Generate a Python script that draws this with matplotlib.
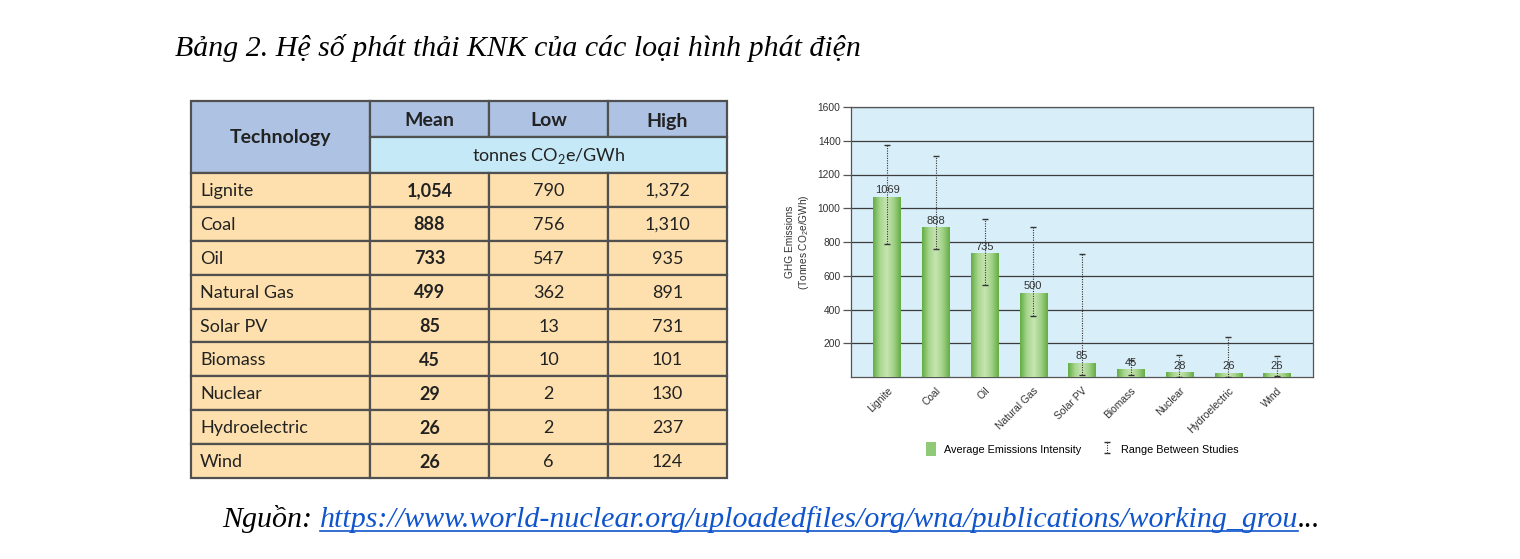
import numpy as np
import matplotlib.pyplot as plt
from matplotlib.patches import Rectangle, Patch
from matplotlib.colors import LinearSegmentedColormap

W, H = 1520, 559

# table data (tonnes CO2e/GWh)
technologies = ['Lignite', 'Coal', 'Oil', 'Natural Gas', 'Solar PV',
                'Biomass', 'Nuclear', 'Hydroelectric', 'Wind']
table_mean = [1054, 888, 733, 499, 85, 45, 29, 26, 26]
table_low = [790, 756, 547, 362, 13, 10, 2, 2, 6]
table_high = [1372, 1310, 935, 891, 731, 101, 130, 237, 124]

# chart data
chart_mean = [1069, 888, 735, 500, 85, 45, 28, 26, 26]
y_ticks = [200, 400, 600, 800, 1000, 1200, 1400, 1600]

title = 'Bảng 2. Hệ số phát thải KNK của các loại hình phát điện'
source_label = 'Nguồn: '
source_url = 'https://www.world-nuclear.org/uploadedfiles/org/wna/publications/working_grou'

fig = plt.figure(figsize=(W / 100, H / 100), dpi=100)
fig.patch.set_facecolor('white')

serif = 'Liberation Serif'
sans = 'Liberation Sans'
tfont = 'Lato'

# ---- title
fig.text(175 / W, 1 - 56 / H, title, family=serif, style='italic',
         fontsize=21.5, va='baseline', ha='left', color='black')

# ---- table
tax = fig.add_axes([191 / W, 1 - 478 / H, 536 / W, 377 / H])
tax.set_xlim(0, 536)
tax.set_ylim(377, 0)
tax.axis('off')

col_edges = [0, 179, 298, 417, 536]
h1, h2 = 36, 36
row_h = (377 - h1 - h2) / len(technologies)
c_head = '#aec3e4'
c_unit = '#c6e9f8'
c_row = '#fde0ad'
c_edge = '#505050'
lw = 1.6


def cell(x0, x1, y0, y1, fc):
    tax.add_patch(Rectangle((x0, y0), x1 - x0, y1 - y0, facecolor=fc,
                            edgecolor=c_edge, lw=lw, clip_on=False))


cell(col_edges[0], col_edges[1], 0, h1 + h2, c_head)
tax.text(col_edges[1] / 2, (h1 + h2) / 2 + 1, 'Technology', ha='center', va='center',
         family=tfont, fontweight='bold', fontsize=14, color='#222222')
for j, name in enumerate(['Mean', 'Low', 'High']):
    cell(col_edges[j + 1], col_edges[j + 2], 0, h1, c_head)
    tax.text((col_edges[j + 1] + col_edges[j + 2]) / 2, h1 / 2 + 2, name,
             ha='center', va='center', family=tfont, fontweight='bold',
             fontsize=14, color='#222222')
cell(col_edges[1], col_edges[4], h1, h1 + h2, c_unit)
tax.text((col_edges[1] + col_edges[4]) / 2, h1 + h2 / 2 + 1, r'tonnes CO$_\mathregular{2}$e/GWh',
         ha='center', va='center', family=tfont, fontsize=13, color='#222222')

for i, tech in enumerate(technologies):
    y0 = h1 + h2 + i * row_h
    yc = y0 + row_h / 2 + 1
    for j in range(4):
        cell(col_edges[j], col_edges[j + 1], y0, y0 + row_h, c_row)
    tax.text(9, yc, tech, ha='left', va='center', family=tfont,
             fontsize=13, color='#222222')
    vals = [table_mean[i], table_low[i], table_high[i]]
    for j, v in enumerate(vals):
        tax.text((col_edges[j + 1] + col_edges[j + 2]) / 2, yc, f'{v:,}',
                 ha='center', va='center', family=tfont, fontsize=13,
                 fontweight='bold' if j == 0 else 'normal', color='#222222')

# ---- bar chart
ax = fig.add_axes([851 / W, 1 - 377 / H, 462 / W, 270 / H])
x = np.arange(len(technologies))
ax.set_facecolor('#d8eef9')
bars = ax.bar(x, chart_mean, width=0.56, color='none', edgecolor='none', zorder=3)

green = LinearSegmentedColormap.from_list('g', ['#64ad45', '#a8d68e', '#c6e5b2', '#a0d185', '#64ad45'])
grad = np.linspace(0, 1, 100).reshape(1, -1)
for b in bars:
    im = ax.imshow(grad, cmap=green, aspect='auto', zorder=3,
                   extent=(b.get_x(), b.get_x() + b.get_width(), 0, b.get_height()))
    im.set_clip_path(b)

yerr = [np.array(chart_mean) - np.array(table_low), np.array(table_high) - np.array(chart_mean)]
eb = ax.errorbar(x, chart_mean, yerr=yerr, fmt='none', ecolor='#333333',
                 elinewidth=0.8, capsize=2.5, capthick=1.0, zorder=4)
eb[2][0].set_linestyle((0, (1, 1.2)))

ax.bar_label(bars, padding=1, fontsize=8, family=sans, color='#333333', zorder=5)

ax.set_xlim(-0.74, len(technologies) - 0.26)
ax.set_ylim(0, 1600)
ax.set_yticks(y_ticks)
ax.set_yticklabels([str(t) for t in y_ticks], family=sans, fontsize=7.4, color='#333333')
ax.set_xticks(x)
ax.set_xticklabels(technologies, rotation=45, ha='right', rotation_mode='anchor',
                   family=sans, fontsize=7.4, color='#333333')
ax.tick_params(axis='x', length=0, pad=6)
ax.tick_params(axis='y', length=5.5, width=0.9, color='#555555', pad=2)
ax.yaxis.grid(True, color='#3c3c3c', lw=0.9)
ax.set_axisbelow(True)
for s in ax.spines.values():
    s.set_color('#555555')
    s.set_linewidth(0.9)
ax.set_ylabel('GHG Emissions\n' + r'(Tonnes CO$_\mathregular{2}$e/GWh)',
              family=sans, fontsize=7.3, color='#333333', labelpad=5)

handles = [Patch(facecolor='#90c978', edgecolor='none'), eb]
fig.legend(handles, ['Average Emissions Intensity', 'Range Between Studies'],
           loc='center', bbox_to_anchor=(1082 / W, 1 - 449 / H), ncol=2,
           frameon=False, prop={'family': sans, 'size': 7.8},
           handlelength=0.9, handleheight=1.6, handletextpad=0.8, columnspacing=1.9)

# ---- source line
r = fig.canvas.get_renderer()
t1 = fig.text(222 / W, 1 - 527 / H, source_label, family=serif, style='italic',
              fontsize=21.6, va='baseline', color='black')
bb1 = t1.get_window_extent(r)
t2 = fig.text(bb1.x1 / W, 1 - 527 / H, source_url, family=serif, style='italic',
              fontsize=21.6, va='baseline', color='#1155cc')
bb2 = t2.get_window_extent(r)
fig.text(bb2.x1 / W, 1 - 527 / H, '...', family=serif, style='italic',
         fontsize=21.6, va='baseline', color='black')
fig.add_artist(plt.Line2D([bb2.x0 / W, bb2.x1 / W], [1 - 531 / H, 1 - 531 / H],
                          color='#1155cc', lw=1.2))

fig.savefig('out.png', dpi=100)
